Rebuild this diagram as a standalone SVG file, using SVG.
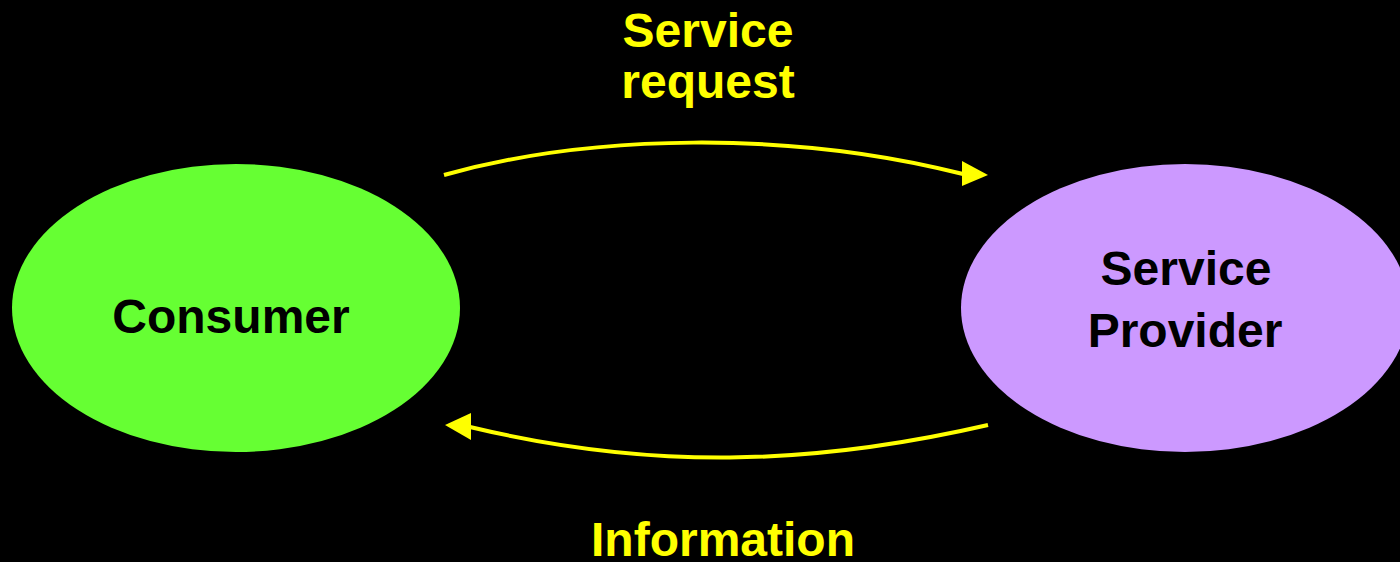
<svg xmlns="http://www.w3.org/2000/svg" width="1400" height="562" viewBox="0 0 1400 562">
<style>
.lbl{font-family:"Liberation Sans",Arial,sans-serif;font-weight:bold;font-size:48px;text-anchor:middle}
.dark{fill:#000000}
.yel{fill:#FFFF00}
.conn{fill:none;stroke:#FFFF00;stroke-width:4}
.head{fill:#FFFF00}
</style>
<rect x="0" y="0" width="1400" height="562" fill="#000000"/>
<g id="consumer">
<ellipse cx="236" cy="308" rx="224" ry="144" fill="#66FF33"/>
<text class="lbl dark" x="231" y="333">Consumer</text>
</g>
<g id="provider">
<ellipse cx="1185" cy="308" rx="224" ry="144" fill="#CC99FF"/>
<text class="lbl dark" x="1186" y="285">Service</text>
<text class="lbl dark" x="1185" y="347">Provider</text>
</g>
<g id="connectors">
<g id="request">
<path class="conn" d="M444,175 C590,134 790,130 963,174"/>
<polygon class="head" points="962,161 988,175 962,186"/>
<text class="lbl yel" x="708" y="47">Service</text>
<text class="lbl yel" x="708" y="98">request</text>
</g>
<g id="information">
<path class="conn" d="M988,425 C810,466 650,470 470,427"/>
<polygon class="head" points="471,413 445,425 471,440"/>
<text class="lbl yel" x="723" y="556">Information</text>
</g>
</g>
</svg>
